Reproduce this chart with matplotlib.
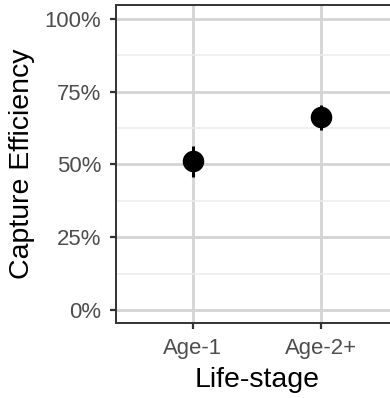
import matplotlib
matplotlib.use('Agg')
import matplotlib.pyplot as plt
from matplotlib.ticker import FixedLocator, FuncFormatter

# data
stages = ["Age-1", "Age-2+"]
efficiency = [0.511, 0.664]
lower = [0.456, 0.619]
upper = [0.562, 0.705]

plt.rcParams['font.family'] = ['Liberation Sans', 'DejaVu Sans']

fig = plt.figure(figsize=(3.9, 3.98), dpi=100)
# panel runs past the right edge, as in the reference
ax = fig.add_axes([116 / 390, (398 - 323.3) / 398, 282 / 390, (323.3 - 5) / 398])

x = list(range(1, len(stages) + 1))
yerr = [[e - l for e, l in zip(efficiency, lower)],
        [u - e for e, u in zip(efficiency, upper)]]
ax.errorbar(x, efficiency, yerr=yerr, fmt='o', color='black',
            markersize=14.5, elinewidth=2.2, capsize=0, zorder=3)

ax.set_xlim(0.4, 2.6)
ax.set_ylim(-0.046, 1.048)

ax.set_xticks(x)
ax.set_xticklabels(stages)
ax.set_yticks([0, 0.25, 0.5, 0.75, 1.0])
ax.yaxis.set_major_formatter(FuncFormatter(lambda v, p: f"{v*100:.0f}%"))
ax.yaxis.set_minor_locator(FixedLocator([0.125, 0.375, 0.625, 0.875]))

ax.grid(True, which='major', color='#d4d4d4', linewidth=2.0, zorder=0)
ax.grid(True, which='minor', axis='y', color='#ececec', linewidth=1.2, zorder=0)
ax.set_axisbelow(True)

for s in ax.spines.values():
    s.set_color('#333333')
    s.set_linewidth(1.4)

ax.tick_params(axis='both', which='major', length=4.5, width=1.6, color='#333333',
               labelsize=15.9, labelcolor='#4d4d4d')
ax.tick_params(axis='x', which='major', pad=6)
ax.tick_params(axis='y', which='major', pad=6)
ax.tick_params(axis='y', which='minor', length=0)

ax.set_xlabel("Life-stage", fontsize=20.5, labelpad=6)
ax.set_ylabel("Capture Efficiency", fontsize=20.5, labelpad=7)

fig.savefig("out.png", dpi=100)
